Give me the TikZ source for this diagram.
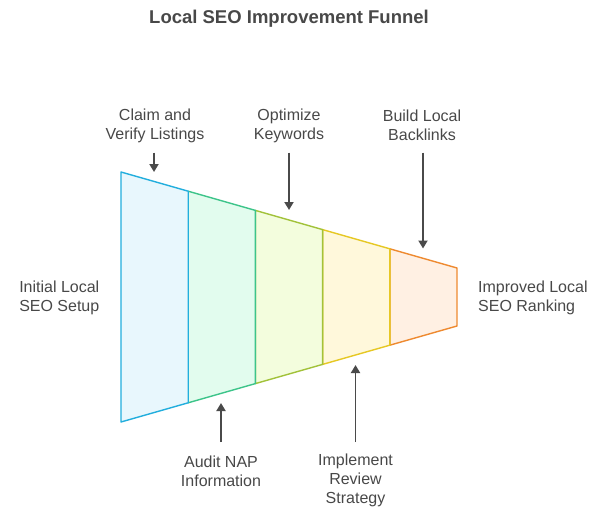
\documentclass[tikz,border=0pt]{standalone}
\usepackage{fontspec}
\setmainfont{Liberation Sans}
\usetikzlibrary{arrows.meta}

\definecolor{txtgray}{HTML}{484848}
\definecolor{arrgray}{HTML}{4A4A4A}
\definecolor{blueline}{HTML}{22AEDD}
\definecolor{bluefill}{HTML}{E8F7FD}
\definecolor{tealline}{HTML}{3DC48A}
\definecolor{tealfill}{HTML}{E2FCEE}
\definecolor{limeline}{HTML}{A2C23A}
\definecolor{limefill}{HTML}{F3FDDD}
\definecolor{yellowline}{HTML}{E6C824}
\definecolor{yellowfill}{HTML}{FFF8DB}
\definecolor{orangeline}{HTML}{EE8A30}
\definecolor{orangefill}{HTML}{FFF0E3}

\tikzset{
  lbl/.style={text=txtgray, font=\fontsize{16}{19}\selectfont, align=center, inner sep=0pt},
  arr/.style={draw=arrgray, line width=1.8pt, -{Triangle[length=8pt,width=9pt]}},
  seg/.style={line width=1.4pt, line join=round}
}

\begin{document}
\begin{tikzpicture}[x=1pt,y=-1pt]
\useasboundingbox (0,0) rectangle (612,514);

\node[text=txtgray, font=\fontsize{18.5}{22}\selectfont\bfseries] (title) at (289,18.5) {Local SEO Improvement Funnel};

% funnel, drawn right to left
\filldraw[seg, draw=orangeline, fill=orangefill] (389.8,248.8) -- (457,268) -- (457,326) -- (389.8,345.2) -- cycle;
\filldraw[seg, draw=yellowline, fill=yellowfill] (322.6,229.6) -- (389.8,248.8) -- (389.8,345.2) -- (322.6,364.4) -- cycle;
\filldraw[seg, draw=limeline, fill=limefill] (255.4,210.4) -- (322.6,229.6) -- (322.6,364.4) -- (255.4,383.6) -- cycle;
\filldraw[seg, draw=tealline, fill=tealfill] (188.2,191.2) -- (255.4,210.4) -- (255.4,383.6) -- (188.2,402.8) -- cycle;
\filldraw[seg, draw=blueline, fill=bluefill] (121,172) -- (188.2,191.2) -- (188.2,402.8) -- (121,422) -- cycle;

% labels
\node[lbl] (claim) at (155,125.5) {Claim and\\Verify Listings};
\node[lbl] (optim) at (289,125.5) {Optimize\\Keywords};
\node[lbl] (build) at (422,125.5) {Build Local\\Backlinks};
\node[lbl] (audit) at (221,471) {Audit NAP\\Information};
\node[lbl] (review) at (355.5,480) {Implement\\Review\\Strategy};
\node[lbl, align=right, anchor=east] (start) at (99.5,297.5) {Initial Local\\SEO Setup};
\node[lbl, align=left, anchor=west] (goal) at (478,297.5) {Improved Local\\SEO Ranking};

% arrows
\coordinate (claimtop) at (154,152.5);
\coordinate (claimtip) at (154,172);
\coordinate (optimtop) at (289,152.5);
\coordinate (optimtip) at (289,210);
\coordinate (buildtop) at (423,152.5);
\coordinate (buildtip) at (423,248.5);
\coordinate (auditbot) at (221,442);
\coordinate (audittip) at (221,403);
\coordinate (reviewbot) at (355.5,442);
\coordinate (reviewtip) at (355.5,365);

\draw[arr] (claimtop) -- (claimtip);
\draw[arr] (optimtop) -- (optimtip);
\draw[arr] (buildtop) -- (buildtip);
\draw[arr] (auditbot) -- (audittip);
\draw[arr] (reviewbot) -- (reviewtip);
\end{tikzpicture}
\end{document}
